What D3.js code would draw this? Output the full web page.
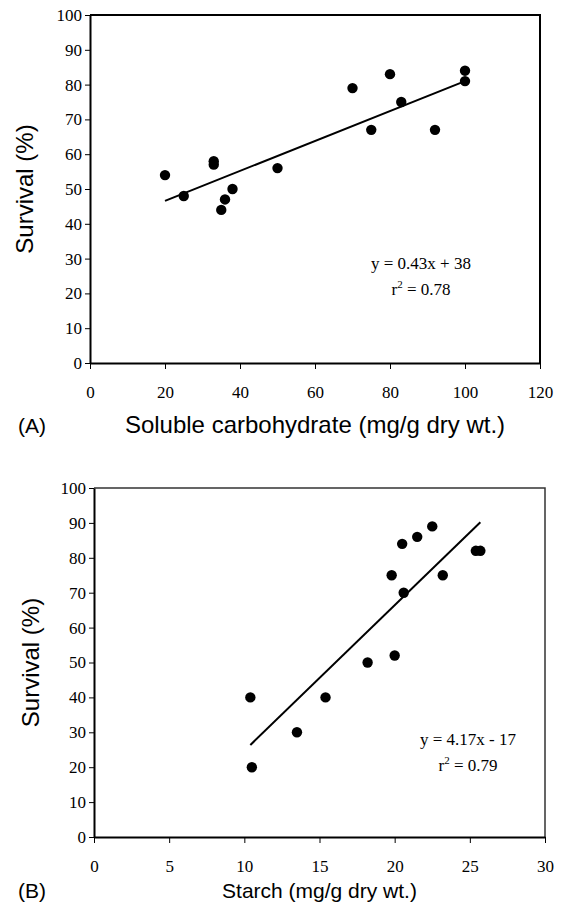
<!DOCTYPE html>
<html>
<head>
<meta charset="utf-8">
<script src="https://cdn.jsdelivr.net/npm/d3@7"></script>
<style>
  body { margin: 0; background: #fff; }
  .title { font-family: "Liberation Sans", Arial, sans-serif; }
  .eq { font-family: "Liberation Serif", "Times New Roman", serif; }
</style>
</head>
<body>
<div id="chart"></div>
<script>
// (A) soluble carbohydrate vs survival
const carbX = [20, 25, 33, 33, 35, 36, 38, 50, 70, 75, 80, 83, 92, 100, 100];
const carbY = [54, 48, 58, 57, 44, 47, 50, 56, 79, 67, 83, 75, 67, 84, 81];
const carbFit = { slope: 0.43, intercept: 38 };
const carbTicks = [0, 20, 40, 60, 80, 100, 120];

// (B) starch vs survival
const starchX = [10.4, 10.5, 13.5, 15.4, 18.2, 20, 19.8, 20.5, 20.6, 21.5, 22.5, 23.2, 25.4, 25.7];
const starchY = [40, 20, 30, 40, 50, 52, 75, 84, 70, 86, 89, 75, 82, 82];
const starchFit = { slope: 4.17, intercept: -17 };
const starchTicks = [0, 5, 10, 15, 20, 25, 30];

const survivalTicks = [0, 10, 20, 30, 40, 50, 60, 70, 80, 90, 100];

const serif = '"Liberation Serif", "Times New Roman", serif';

const svg = d3.select("#chart")
    .append("svg")
    .attr("width", 565)
    .attr("height", 909);

function drawPanel(p) {
    const x = d3.scaleLinear()
        .domain([p.xTicks[0], p.xTicks[p.xTicks.length - 1]])
        .range([p.left, p.right]);
    const y = d3.scaleLinear()
        .domain([0, 100])
        .range([p.bottom, p.top]);

    // frame (top and right)
    svg.append("path")
        .attr("d", `M${p.left},${p.top}H${p.right}V${p.bottom}`)
        .attr("fill", "none")
        .attr("stroke", p.frameColor)
        .attr("stroke-width", p.frameWidth);

    // x axis
    const gx = svg.append("g")
        .attr("transform", `translate(0, ${p.bottom})`)
        .call(d3.axisBottom(x).tickValues(p.xTicks).tickSize(6).tickPadding(17).tickSizeOuter(0))
        .attr("font-family", serif)
        .attr("font-size", 17);
    gx.select(".domain").attr("stroke-width", 2);
    gx.selectAll(".tick text").attr("fill", "#000");

    // y axis
    const gy = svg.append("g")
        .attr("transform", `translate(${p.left}, 0)`)
        .call(d3.axisLeft(y).tickValues(survivalTicks).tickSize(5).tickPadding(3).tickSizeOuter(0))
        .attr("font-family", serif)
        .attr("font-size", 17);
    gy.select(".domain").attr("stroke-width", 2);
    gy.selectAll(".tick text").attr("fill", "#000");

    // trend line
    const x0 = d3.min(p.xs), x1 = d3.max(p.xs);
    svg.append("line")
        .attr("x1", x(x0))
        .attr("y1", y(p.fit.slope * x0 + p.fit.intercept))
        .attr("x2", x(x1))
        .attr("y2", y(p.fit.slope * x1 + p.fit.intercept))
        .attr("stroke", "#000")
        .attr("stroke-width", 2);

    // dots
    svg.append("g")
        .selectAll("circle")
        .data(p.xs.map((d, i) => [d, p.ys[i]]))
        .enter()
        .append("circle")
        .attr("cx", d => x(d[0]))
        .attr("cy", d => y(d[1]))
        .attr("r", 5.2)
        .attr("fill", "#000");

    // axis titles
    svg.append("text")
        .attr("class", "title")
        .attr("x", (p.left + p.right) / 2)
        .attr("y", p.xTitleY)
        .attr("text-anchor", "middle")
        .attr("font-size", p.xTitleSize)
        .text(p.xTitle);

    svg.append("text")
        .attr("class", "title")
        .attr("transform", `translate(${p.yTitleX}, ${(p.top + p.bottom) / 2}) rotate(-90)`)
        .attr("text-anchor", "middle")
        .attr("font-size", 24)
        .text("Survival (%)");

    svg.append("text")
        .attr("class", "title")
        .attr("x", 18)
        .attr("y", p.xTitleY)
        .attr("font-size", 21)
        .text(p.label);

    // equation
    svg.append("text")
        .attr("class", "eq")
        .attr("x", p.eqX)
        .attr("y", p.eqY)
        .attr("text-anchor", "middle")
        .attr("font-size", 17)
        .text(p.eq);

    const r2 = svg.append("text")
        .attr("class", "eq")
        .attr("x", p.eqX)
        .attr("y", p.eqY + 26)
        .attr("text-anchor", "middle")
        .attr("font-size", 17);
    r2.append("tspan").text("r");
    r2.append("tspan").attr("font-size", 11).attr("dy", -7).text("2");
    r2.append("tspan").attr("dy", 7).text(" = " + p.r2);
}

drawPanel({
    left: 90, right: 540, top: 15, bottom: 363,
    xTicks: carbTicks, xs: carbX, ys: carbY, fit: carbFit,
    xTitle: "Soluble carbohydrate (mg/g dry wt.)", xTitleSize: 24, xTitleY: 433,
    yTitleX: 33, label: "(A)",
    eq: "y = 0.43x + 38", r2: "0.78", eqX: 421, eqY: 269,
    frameColor: "#000", frameWidth: 2
});

drawPanel({
    left: 94, right: 545, top: 488, bottom: 837,
    xTicks: starchTicks, xs: starchX, ys: starchY, fit: starchFit,
    xTitle: "Starch (mg/g dry wt.)", xTitleSize: 21, xTitleY: 898,
    yTitleX: 39, label: "(B)",
    eq: "y = 4.17x - 17", r2: "0.79", eqX: 468, eqY: 745,
    frameColor: "#333", frameWidth: 1.5
});
</script>
</body>
</html>
